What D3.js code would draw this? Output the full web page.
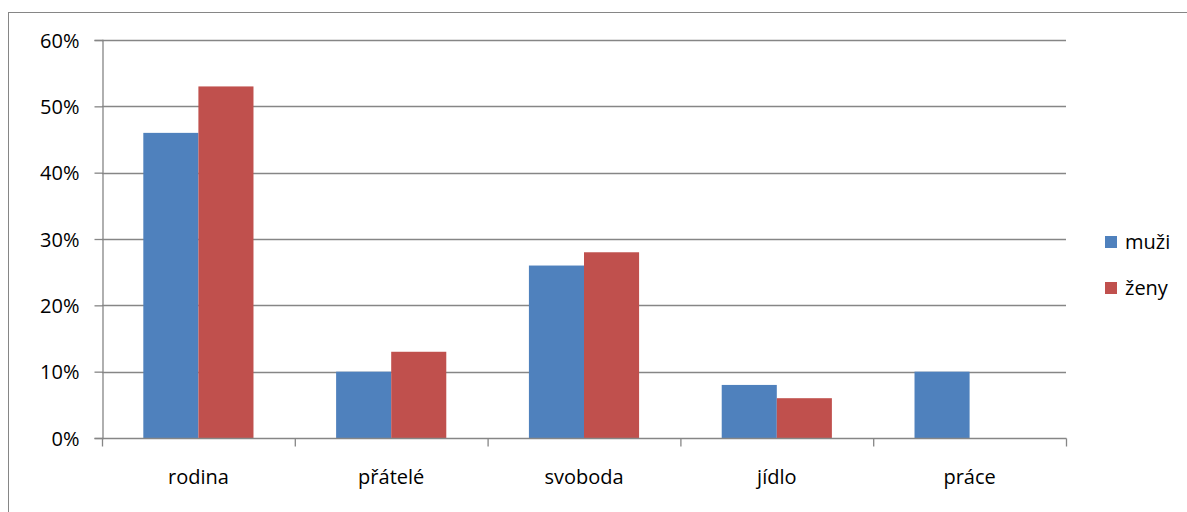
<!DOCTYPE html>
<html>
<head>
<meta charset="utf-8">
<script src="https://cdn.jsdelivr.net/npm/d3@7"></script>
<style>
  body { margin: 0; background: #fff; }
  svg text { font-family: "Open Sans", "Liberation Sans", sans-serif; fill: #000; }
</style>
</head>
<body>
<svg id="chart" width="1187" height="512"></svg>
<script>
// kategorie a hodnoty (v procentech)
var kategorie = ["rodina", "přátelé", "svoboda", "jídlo", "práce"];
var muzi = [46, 10, 26, 8, 10];
var zeny = [53, 13, 28, 6, 0];
var serie = ["muži", "ženy"];
var barvy = ["#4F81BD", "#C0504D"];
var tickHodnoty = [0, 10, 20, 30, 40, 50, 60];

var svg = d3.select("#chart");
// pozor: "top" je v prohlizeci rezervovane (window.top)
var plotLeft = 102, plotRight = 1066, plotTop = 40, plotBottom = 438;

// ramecek kolem grafu
svg.append("rect")
    .attr("x", 8.5).attr("y", 12.5)
    .attr("width", 1200).attr("height", 520)
    .attr("fill", "none").attr("stroke", "#868686").attr("stroke-width", 1);

var x = d3.scaleBand().domain(kategorie).range([plotLeft, plotRight]).paddingInner(0).paddingOuter(0);
var x1 = d3.scaleBand().domain(serie).range([0, x.bandwidth()]).paddingOuter(0.75).paddingInner(0);
var y = d3.scaleLinear().domain([0, 60]).range([plotBottom, plotTop]);

// mrizka
svg.append("g").selectAll("line")
    .data(tickHodnoty.slice(1))
    .enter().append("line")
    .attr("x1", plotLeft).attr("x2", plotRight)
    .attr("y1", function(d) { return Math.round(y(d)) + 0.5; })
    .attr("y2", function(d) { return Math.round(y(d)) + 0.5; })
    .attr("stroke", "#868686").attr("stroke-width", 1.3);

// sloupce
var data = [];
kategorie.forEach(function(k, i) {
    data.push({ kat: k, s: "muži", v: muzi[i], c: barvy[0] });
    data.push({ kat: k, s: "ženy", v: zeny[i], c: barvy[1] });
});
svg.append("g").selectAll("rect")
    .data(data.filter(function(d) { return d.v > 0; }))
    .enter().append("rect")
    .attr("x", function(d) { return x(d.kat) + x1(d.s); })
    .attr("y", function(d) { return y(d.v); })
    .attr("width", x1.bandwidth())
    .attr("height", function(d) { return plotBottom - y(d.v); })
    .attr("fill", function(d) { return d.c; });

// osa y
var yAxis = d3.axisLeft(y).tickValues(tickHodnoty).tickSize(8).tickPadding(15)
    .tickFormat(function(d) { return d + "%"; });
var gy = svg.append("g").attr("transform", "translate(" + (plotLeft + 0.5) + ",0)").call(yAxis);
gy.select(".domain").attr("stroke", "#868686").attr("stroke-width", 1.3);
gy.selectAll(".tick line").attr("stroke", "#868686").attr("stroke-width", 1.3);
gy.selectAll(".tick text").style("font-size", "20px").attr("dy", "0.35em");

// osa x
var gx = svg.append("g").attr("transform", "translate(0," + (plotBottom + 0.5) + ")");
gx.append("line").attr("x1", plotLeft).attr("x2", plotRight + 0.5)
    .attr("stroke", "#868686").attr("stroke-width", 1.3);
gx.selectAll(".hranice")
    .data(kategorie.concat(["konec"]))
    .enter().append("line")
    .attr("x1", function(d, i) { return i < kategorie.length ? x(d) + 0.5 : plotRight + 0.5; })
    .attr("x2", function(d, i) { return i < kategorie.length ? x(d) + 0.5 : plotRight + 0.5; })
    .attr("y1", 0).attr("y2", 8)
    .attr("stroke", "#868686").attr("stroke-width", 1.3);
gx.selectAll(".popisek")
    .data(kategorie)
    .enter().append("text")
    .attr("x", function(d) { return x(d) + x.bandwidth() / 2; })
    .attr("y", 45)
    .attr("text-anchor", "middle")
    .style("font-size", "20px")
    .text(function(d) { return d; });

// legenda
var legenda = svg.append("g").attr("transform", "translate(1105,236)");
serie.forEach(function(s, i) {
    legenda.append("rect").attr("x", 0).attr("y", i * 46)
        .attr("width", 12).attr("height", 12).attr("fill", barvy[i]);
    legenda.append("text").attr("x", 20).attr("y", i * 46 + 13)
        .style("font-size", "20px").text(s);
});
</script>
</body>
</html>
